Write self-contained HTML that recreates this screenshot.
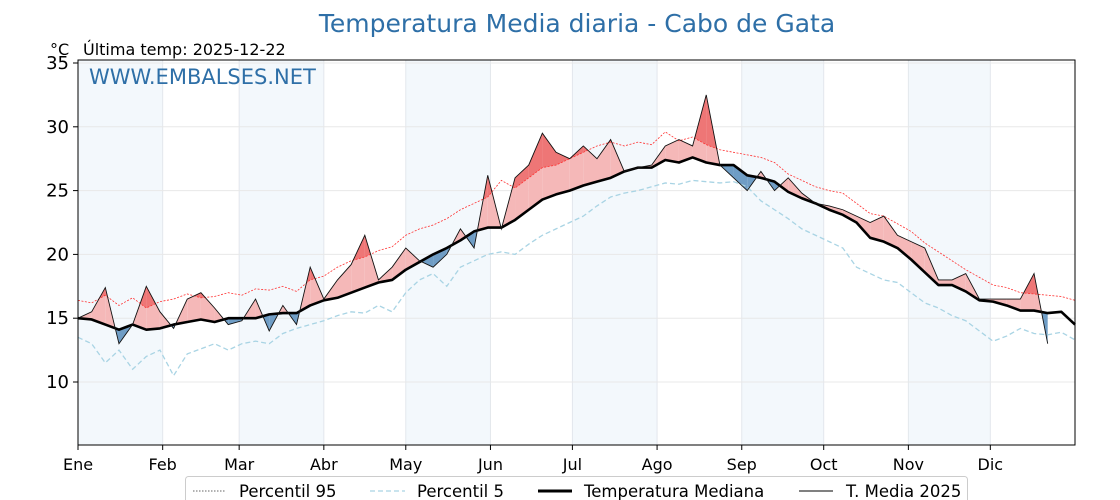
<!DOCTYPE html>
<html><head><meta charset="utf-8"><style>
body{margin:0;background:#fff;}
svg{display:block;font-family:"DejaVu Sans","Liberation Sans",sans-serif;}
</style></head><body>
<svg id="chart" width="1120" height="500" viewBox="0 0 1120 500">
<g id="bands"></g>
<g id="grid"></g>
<g id="fills"></g>
<g id="lines"></g>
<rect x="78" y="60" width="997" height="385" fill="none" stroke="#000" stroke-width="1"/>
<g id="axes"></g>
<text x="577" y="32" text-anchor="middle" font-size="25" fill="#2e6fa7">Temperatura Media diaria - Cabo de Gata</text>
<text x="50" y="55" font-size="16" fill="#000">°C</text>
<text x="83" y="55" font-size="16" fill="#000">Última temp: 2025-12-22</text>
<text x="89" y="84" font-size="21" fill="#2e6fa7">WWW.EMBALSES.NET</text>
<g>
<rect x="185.5" y="476.5" width="782" height="30" rx="3" fill="#fff" stroke="#ccc"/>
<line x1="193" y1="491" x2="225" y2="491" stroke="#333" stroke-width="0.8" stroke-dasharray="1.5,1.5"/>
<text x="239" y="497" font-size="16.5">Percentil 95</text>
<line x1="370" y1="491" x2="405" y2="491" stroke="#a9d4e4" stroke-width="1.3" stroke-dasharray="5,3"/>
<text x="417" y="497" font-size="16.5">Percentil 5</text>
<line x1="538" y1="491" x2="572" y2="491" stroke="#000" stroke-width="3"/>
<text x="584" y="497" font-size="16.5">Temperatura Mediana</text>
<line x1="799" y1="491" x2="833" y2="491" stroke="#000" stroke-width="1"/>
<text x="846" y="497" font-size="16.5">T. Media 2025</text>
</g>
</svg>
<script>
const dayStep = 5;
const monthLabels = ["Ene","Feb","Mar","Abr","May","Jun","Jul","Ago","Sep","Oct","Nov","Dic"];
const monthStarts = [0,31,59,90,120,151,181,212,243,273,304,334];
const yTicks = [10,15,20,25,30,35];
const median = [15.0,14.9,14.5,14.1,14.5,14.1,14.2,14.5,14.7,14.9,14.7,15.0,15.0,15.0,15.3,15.4,15.4,16.0,16.4,16.6,17.0,17.4,17.8,18.0,18.8,19.4,20.0,20.5,21.1,21.8,22.1,22.1,22.7,23.5,24.3,24.7,25.0,25.4,25.7,26.0,26.5,26.8,26.8,27.4,27.2,27.6,27.2,27.0,27.0,26.2,26.0,25.7,24.9,24.4,24.0,23.5,23.1,22.5,21.3,21.0,20.5,19.6,18.6,17.6,17.6,17.1,16.4,16.3,16.0,15.6,15.6,15.4,15.5,14.5];
const p95 = [16.4,16.2,16.8,16.0,16.6,15.8,16.3,16.5,16.9,16.6,16.7,17.0,16.8,17.3,17.2,17.5,17.1,18.0,18.3,19.0,19.5,19.8,20.3,20.6,21.5,22.0,22.3,22.8,23.5,24.0,24.5,25.8,25.2,26.0,26.8,27.0,27.5,28.0,28.5,28.8,28.5,28.8,28.6,29.6,28.9,29.2,28.6,28.2,28.0,27.8,27.6,27.2,26.3,25.8,25.3,25.0,24.8,24.0,23.2,23.0,22.4,21.8,20.9,20.2,19.5,18.8,18.2,17.6,17.4,17.0,16.9,16.8,16.7,16.4];
const p5 = [13.5,13.0,11.5,12.5,11.0,12.0,12.5,10.5,12.2,12.6,13.0,12.5,13.0,13.2,13.0,13.8,14.2,14.5,14.8,15.2,15.5,15.4,16.0,15.5,17.0,18.0,18.5,17.5,19.0,19.5,20.0,20.2,20.0,20.8,21.5,22.0,22.5,23.0,23.8,24.5,24.8,25.0,25.3,25.6,25.5,25.8,25.7,25.6,25.7,25.3,24.2,23.5,22.8,22.0,21.5,21.0,20.5,19.0,18.5,18.0,17.8,17.0,16.2,15.8,15.2,14.8,14.0,13.2,13.6,14.2,13.8,13.7,13.9,13.3];
const t2025 = [15.0,15.5,17.4,13.0,14.5,17.5,15.5,14.2,16.5,17.0,15.8,14.5,14.8,16.5,14.0,16.0,14.5,19.0,16.5,18.0,19.2,21.5,18.0,19.0,20.5,19.5,19.0,20.0,22.0,20.5,26.2,22.0,26.0,27.0,29.5,28.0,27.5,28.5,27.5,29.0,26.5,26.8,27.0,28.5,29.0,28.5,32.5,27.0,26.0,25.0,26.5,25.0,26.0,24.8,24.0,23.8,23.5,23.0,22.5,23.0,21.5,21.0,20.5,18.0,18.0,18.5,16.5,16.5,16.5,16.5,18.5,13.0];

const X0=78,X1=1075,Y0=60,Y1=445;
const xs = d => X0 + d*(X1-X0)/365;
const ys = v => 382 - (v-10)*12.76;
const NS="http://www.w3.org/2000/svg";
function mk(parent,tag,attrs){const e=document.createElementNS(NS,tag);for(const k in attrs)e.setAttribute(k,attrs[k]);document.getElementById(parent).appendChild(e);return e;}

monthStarts.forEach((m,i)=>{
  const end = i<11?monthStarts[i+1]:365;
  if(i%2===0){const r=mk('bands','rect',{x:xs(m),y:Y0,width:xs(end)-xs(m),height:Y1-Y0,fill:'#f3f8fc'});
    
    }
  const g=mk('grid','line',{x1:xs(m),x2:xs(m),y1:Y0,y2:Y1,stroke:'#e3e7ec','stroke-width':1});
  
  
  const t=mk('axes','text',{x:xs(m),y:470,'text-anchor':'middle','font-size':16});
  t.textContent=monthLabels[i];
  
  
  const tk=mk('axes','line',{x1:xs(m),x2:xs(m),y1:Y1,y2:Y1+5,stroke:'#000'});
  
  
});
yTicks.forEach(v=>{
  const g=mk('grid','line',{x1:X0,x2:X1,y1:ys(v),y2:ys(v),stroke:'#e8e8e8','stroke-width':1});
  
  
  const tk=mk('axes','line',{x1:X0-5,x2:X0,y1:ys(v),y2:ys(v),stroke:'#000'});
  
  
  const t=mk('axes','text',{x:X0-9,y:ys(v)+6,'text-anchor':'end','font-size':18});
  t.textContent=v;
  
  
});

function fillBetween(a,b,color,name){
  const n=t2025.length;
  for(let i=0;i<n-1;i++){
    const d0=i*dayStep,d1=(i+1)*dayStep;
    const a0=a(i),a1=a(i+1),b0=b(i),b1=b(i+1);
    const f0=a0-b0,f1=a1-b1;
    let pts=null;
    if(f0>=0&&f1>=0){pts=[[d0,a0],[d1,a1],[d1,b1],[d0,b0]];}
    else if(f0>0||f1>0){
      const t=f0/(f0-f1),dc=d0+t*(d1-d0),vc=b0+t*(b1-b0);
      pts = f0>0?[[d0,a0],[dc,vc],[d0,b0]]:[[dc,vc],[d1,a1],[d1,b1]];
    }
    if(pts){
      const p=mk('fills','polygon',{points:pts.map(q=>xs(q[0])+','+ys(q[1])).join(' '),fill:color});
      
      
    }
  }
}
fillBetween(i=>t2025[i],i=>median[i],'#f5b8b8','above-median-fill');
fillBetween(i=>t2025[i],i=>p95[i],'#ee7676','above-p95-fill');
fillBetween(i=>median[i],i=>t2025[i],'#6f9dc5','below-median-fill');

function line(arr,n,attrs,name){
  const pts=[];for(let i=0;i<n;i++)pts.push(xs(Math.min(i*dayStep,365))+','+ys(arr[i]));
  const l=mk('lines','polyline',Object.assign({points:pts.join(' '),fill:'none'},attrs));
  
  
}
line(p5,p5.length,{stroke:'#a9d4e4','stroke-width':1.3,'stroke-dasharray':'5,3'},'p5-line');
line(p95,p95.length,{stroke:'#ff3030','stroke-width':0.8,'stroke-dasharray':'2,1.5'},'p95-line');
line(median,median.length,{stroke:'#000','stroke-width':2.6,'stroke-linejoin':'round'},'median-line');
line(t2025,t2025.length,{stroke:'#111','stroke-width':0.9},'t2025-line');
</script>
</body></html>
